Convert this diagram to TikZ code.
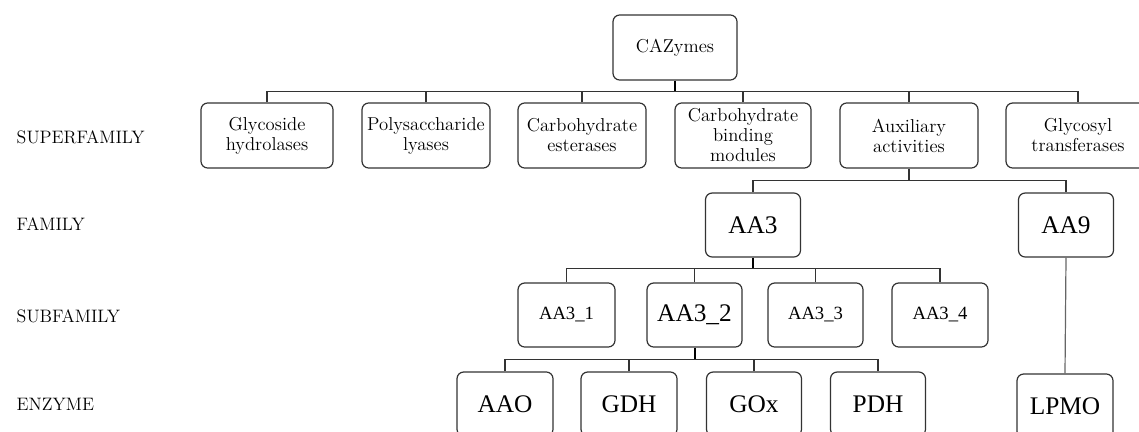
\documentclass[tikz,border=0pt]{standalone}
\usepackage{fontspec}
\newfontfamily\timesfont{Liberation Serif}
\usetikzlibrary{positioning, calc}

\tikzset{
    sz/.style 2 args={minimum width=#1*0.75pt, minimum height=#2*0.75pt},
    box/.style={draw=black!80, line width=0.9pt, rounded corners=5pt, inner sep=0pt,
        align=center, font=\fontsize{14}{15}\selectfont},
    bigbox/.style={box, font=\timesfont\fontsize{19}{22}\selectfont},
    smallbox/.style={box, font=\timesfont\fontsize{14}{16}\selectfont},
    level/.style={anchor=west, font=\fontsize{13.5}{15}\selectfont},
    link/.style={draw=black!80, line width=0.9pt},
    stem/.style={draw=black, line width=1.5pt}
}

\begin{document}
\begin{tikzpicture}[x=0.75pt, y=-0.75pt]
    \useasboundingbox (0,0) rectangle (1139,432);
    \clip (0,0) rectangle (1139,432);

    % level labels
    \node[level] (lsuper) at (12,137) {SUPERFAMILY};
    \node[level] (lfam) at (12,224) {FAMILY};
    \node[level] (lsub) at (12,316) {SUBFAMILY};
    \node[level] (lenz) at (12,404) {ENZYME};

    % root
    \node[box, sz={124}{65}] (cazy) at (675,47.5) {CAZymes};

    % superfamilies
    \node[box, sz={132}{65}] (glyh) at (267,135.5) {Glycoside\\hydrolases};
    \node[box, sz={128}{65}] (poly) at (426,135.5) {Polysaccharide\\lyases};
    \node[box, sz={128}{65}] (este) at (582,135.5) {Carbohydrate\\esterases};
    \node[box, sz={136}{65}] (cbm) at (743,135.5) {Carbohydrate\\binding\\modules};
    \node[box, sz={138}{65}] (aux) at (909,135.5) {Auxiliary\\activities};
    \node[box, sz={144}{65}] (glyt) at (1078,135.5) {Glycosyl\\transferases};

    % families
    \node[bigbox, sz={95}{64}] (aa3) at (753,225) {AA3};
    \node[bigbox, sz={95}{64}] (aa9) at (1066,225) {AA9};

    % subfamilies
    \node[smallbox, sz={97}{64}] (aa31) at (566.5,315) {AA3\_1};
    \node[bigbox, sz={95}{64}] (aa32) at (694.5,315) {AA3\_2};
    \node[smallbox, sz={95}{64}] (aa33) at (815.5,315) {AA3\_3};
    \node[smallbox, sz={96}{64}] (aa34) at (940,315) {AA3\_4};

    % enzymes
    \node[bigbox, sz={96}{64}] (aao) at (505,404) {AAO};
    \node[bigbox, sz={96}{64}] (gdh) at (629,404) {GDH};
    \node[bigbox, sz={95}{64}] (gox) at (754,404) {GOx};
    \node[bigbox, sz={95}{64}] (pdh) at (878,404) {PDH};
    \node[bigbox, sz={96}{64}] (lpmo) at (1065,406) {LPMO};

    % CAZymes -> superfamilies
    \draw[stem] (cazy.south) -- ++(0,11) coordinate (b1);
    \draw[link] (glyh.north) |- (b1) -| (glyt.north);
    \draw[link] (poly.north) -- (poly.north |- b1);
    \draw[link] (este.north) -- (este.north |- b1);
    \draw[link] (cbm.north) -- (cbm.north |- b1);
    \draw[link] (aux.north) -- (aux.north |- b1);

    % auxiliary activities -> families
    \draw[link] (aux.south) -- ++(0,12) coordinate (b2);
    \draw[link] (aa3.north) |- (b2) -| (aa9.north);

    % AA3 -> subfamilies
    \draw[stem] (aa3.south) -- ++(0,11) coordinate (b3);
    \draw[link] (aa31.north) |- (b3) -| (aa34.north);
    \draw[link] (aa32.north) -- (aa32.north |- b3);
    \draw[link] (aa33.north) -- (aa33.north |- b3);

    % AA3_2 -> enzymes
    \draw[stem] (aa32.south) -- ++(0,12) coordinate (b4);
    \draw[link] (aao.north) |- (b4) -| (pdh.north);
    \draw[link] (gdh.north) -- (gdh.north |- b4);
    \draw[link] (gox.north) -- (gox.north |- b4);

    % AA9 -> LPMO
    \draw[link, draw=black!60] (aa9.south) -- (lpmo.north);
\end{tikzpicture}
\end{document}
